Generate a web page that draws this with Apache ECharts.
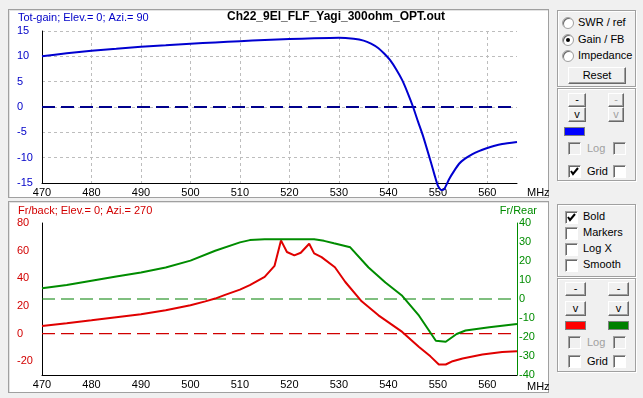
<!DOCTYPE html>
<html>
<head>
<meta charset="utf-8">
<script src="https://cdn.jsdelivr.net/npm/echarts@6/dist/echarts.min.js"></script>
<style>
  body{
    margin:0;
    width:643px;
    height:398px;
    overflow:hidden;
    position:relative;
    background:#f0f0f0;
    font:11px 'Liberation Sans', Arial, sans-serif;
    color:#000;
  }
  .panel{
    position:absolute;
    background:#fff;
    border:1px solid #a0a0a0;
    box-shadow:inset 1px 1px 0 #e3e3e3;
    box-sizing:border-box;
  }
  #chart{
    position:absolute;
    left:0;top:0;
    width:552px;height:398px;
  }
  .group{
    position:absolute;
    border:1px solid #a0a0a0;
    box-shadow:1px 1px 0 #fff, inset 1px 1px 0 #fff;
    box-sizing:border-box;
  }
  .btn{
    position:absolute;
    box-sizing:border-box;
    background:#f0f0f0;
    border:1px solid;
    border-color:#fff #696969 #696969 #fff;
    box-shadow:inset -1px -1px 0 #a0a0a0;
    text-align:center;
    font-size:11px;
  }
  .btn.off{color:#a0a0a0;}
  .chk{
    position:absolute;
    width:13px;height:13px;
    box-sizing:border-box;
    background:#fff;
    border:1px solid;
    border-color:#a0a0a0 #fff #fff #a0a0a0;
    box-shadow:inset 1px 1px 0 #696969;
  }
  .chk.off{background:#f0f0f0;}
  .chk svg{position:absolute;left:1px;top:1px;}
  .radio{
    position:absolute;
    width:12px;height:12px;
    border-radius:50%;
    box-sizing:border-box;
    background:#fff;
    border:1px solid #a0a0a0;
    box-shadow:inset 1px 1px 0 #696969;
  }
  .radio.on::after{
    content:'';
    position:absolute;
    left:3px;top:3px;
    width:4px;height:4px;
    border-radius:50%;
    background:#000;
  }
  .lbl{position:absolute;white-space:nowrap;line-height:13px;}
  .lbl.off{color:#a0a0a0;}
  .sw{position:absolute;box-sizing:border-box;border:1px solid #808080;}
</style>
</head>
<body>
<div class="panel" style="left:8px;top:9px;width:541px;height:189px;"></div>
<div class="panel" style="left:8px;top:201px;width:541px;height:192px;"></div>
<div id="chart"></div>

<!-- right side controls -->
<div class="group" style="left:557px;top:10px;width:79px;height:77px;"></div>
<div class="radio" style="left:562px;top:17px;"></div><div class="lbl" style="left:578px;top:16px;">SWR / ref</div>
<div class="radio on" style="left:562px;top:34px;"></div><div class="lbl" style="left:578px;top:33px;">Gain / FB</div>
<div class="radio" style="left:562px;top:50px;"></div><div class="lbl" style="left:578px;top:49px;">Impedance</div>
<div class="btn" style="left:568px;top:67px;width:58px;height:17px;line-height:15px;">Reset</div>

<div class="group" style="left:557px;top:88px;width:79px;height:93px;"></div>
<div class="btn" style="left:568px;top:93px;width:18px;height:14px;line-height:11px;">-</div>
<div class="btn off" style="left:608px;top:93px;width:16px;height:14px;line-height:11px;">-</div>
<div class="btn" style="left:568px;top:107px;width:18px;height:15px;line-height:13px;">v</div>
<div class="btn off" style="left:608px;top:107px;width:16px;height:15px;line-height:13px;">v</div>
<div class="sw" style="left:564px;top:127px;width:21px;height:9px;background:#0000ff;"></div>
<div class="chk off" style="left:568px;top:142px;"></div><div class="lbl off" style="left:587px;top:142px;">Log</div>
<div class="chk off" style="left:613px;top:142px;"></div>
<div class="chk" style="left:568px;top:165px;"><svg width="9" height="9"><polyline points="1,4 3,7 8,1" fill="none" stroke="#000" stroke-width="2"/></svg></div>
<div class="lbl" style="left:587px;top:165px;">Grid</div>
<div class="chk" style="left:613px;top:165px;"></div>

<div class="group" style="left:557px;top:204px;width:79px;height:73px;"></div>
<div class="chk" style="left:565px;top:211px;"><svg width="9" height="9"><polyline points="1,4 3,7 8,1" fill="none" stroke="#000" stroke-width="2"/></svg></div>
<div class="lbl" style="left:583px;top:210px;">Bold</div>
<div class="chk" style="left:565px;top:227px;"></div><div class="lbl" style="left:583px;top:226px;">Markers</div>
<div class="chk" style="left:565px;top:243px;"></div><div class="lbl" style="left:583px;top:242px;">Log X</div>
<div class="chk" style="left:565px;top:259px;"></div><div class="lbl" style="left:583px;top:258px;">Smooth</div>

<div class="group" style="left:557px;top:278px;width:79px;height:94px;"></div>
<div class="btn" style="left:565px;top:282px;width:21px;height:14px;line-height:11px;">-</div>
<div class="btn" style="left:608px;top:282px;width:21px;height:14px;line-height:11px;">-</div>
<div class="btn" style="left:565px;top:301px;width:21px;height:15px;line-height:13px;">v</div>
<div class="btn" style="left:608px;top:301px;width:21px;height:15px;line-height:13px;">v</div>
<div class="sw" style="left:565px;top:321px;width:21px;height:9px;background:#ff0000;"></div>
<div class="sw" style="left:608px;top:321px;width:21px;height:9px;background:#008000;"></div>
<div class="chk off" style="left:568px;top:336px;"></div><div class="lbl off" style="left:587px;top:336px;">Log</div>
<div class="chk off" style="left:613px;top:336px;"></div>
<div class="chk" style="left:568px;top:355px;"></div><div class="lbl" style="left:587px;top:355px;">Grid</div>
<div class="chk" style="left:613px;top:355px;"></div>

<script>
// gain plot (top), dBi vs MHz
const gainFreq = [470, 475, 480, 485, 490, 495, 500, 505, 510, 515, 520, 525, 530, 533, 535, 536.5, 538, 539.2, 540.4, 541.6, 542.8, 543.9, 545, 546, 547, 548.6, 549.3, 550, 550.7, 551.3, 552.3, 553.3, 554.3, 555.5, 557, 558.3, 559.7, 561.3, 563, 566]
const gainDb = [10.0, 10.6, 11.1, 11.5, 11.9, 12.2, 12.5, 12.75, 13.0, 13.2, 13.4, 13.55, 13.65, 13.45, 13.1, 12.5, 11.6, 10.5, 9.2, 7.4, 5.3, 2.8, 0, -2.9, -5.7, -10.9, -13.3, -15.5, -16.4, -16.2, -14.2, -12.6, -11.2, -10.2, -9.3, -8.7, -8.2, -7.7, -7.3, -6.9]

// front/back (left axis, red)
const fbFreq = [470, 475, 480, 485, 490, 495, 500, 503, 505, 507, 510, 512, 515, 517, 518.3, 519.5, 521, 522.3, 524, 525, 526.5, 529.2, 531.3, 534.6, 538, 542.8, 546.2, 548.5, 550.2, 551.6, 553, 555, 559, 563, 566]
const fbDb = [5.5, 7.5, 9.6, 11.8, 14, 16.8, 20.5, 23.3, 25.3, 28, 31.8, 35, 41, 49, 67.4, 59, 56.6, 58.5, 65, 58, 55.3, 48, 37.3, 23.3, 13.2, 1.2, -9.7, -16.5, -22.4, -22.4, -20, -18, -15.2, -13.3, -12.8]

// front/rear (right axis, green)
const frFreq = [470, 475, 480, 485, 490, 495, 500, 505, 510, 512, 515, 520, 525, 527, 529, 532.3, 536, 539.4, 542.8, 546.2, 549.6, 551.6, 553.8, 555.6, 560.4, 566]
const frDb = [5.6, 7.4, 9.6, 11.8, 14, 16.6, 20.2, 25.4, 29.8, 31, 31.4, 31.4, 31.4, 30.6, 29.3, 27.2, 16.6, 8.7, 1.7, -8.8, -22, -22.5, -18.4, -16.6, -14.9, -13.2]

const fMin = 470, fMax = 566
const refLevel = 0   // dashed 0 dB reference in each plot
const font = "'Liberation Sans', Arial, sans-serif"

const chart = echarts.init(document.getElementById('chart'))

const xAxisBase = (gridIndex, withGrid) => ({
  type: 'value',
  gridIndex: gridIndex,
  min: fMin,
  max: fMax,
  interval: 10,
  axisLine: {show: true, onZero: false, lineStyle: {color: '#000', width: 1}},
  axisTick: {show: false},
  axisLabel: {
    color: '#000', fontSize: 11, fontFamily: font, margin: 4,
    formatter: v => (v % 10 === 0 ? String(v) : '')
  },
  splitLine: {
    show: withGrid, showMinLine: false, showMaxLine: false,
    lineStyle: {color: '#bdbdbd', type: [3, 3], width: 1}
  }
})

// dashed reference line drawn as its own series
const refSeries = (xi, yi, color, width) => ({
  type: 'line', xAxisIndex: xi, yAxisIndex: yi,
  data: [[fMin, refLevel], [fMax, refLevel]],
  showSymbol: false, silent: true, z: 2,
  lineStyle: {color: color, width: width, type: [13, 6]}
})

const option = {
  animation: false,
  backgroundColor: 'transparent',
  grid: [
    {left: 42, top: 31, width: 475, height: 152},
    {left: 42, top: 223, width: 475, height: 152}
  ],
  xAxis: [xAxisBase(0, true), xAxisBase(1, false)],
  yAxis: [
    {
      type: 'value', gridIndex: 0, min: -15, max: 15, interval: 5,
      axisLine: {show: true, lineStyle: {color: '#000'}},
      axisTick: {show: false},
      axisLabel: {color: '#0000c8', fontSize: 11, fontFamily: font, align: 'left', margin: 25},
      splitLine: {show: true, showMinLine: false, lineStyle: {color: '#bdbdbd', type: [3, 3], width: 1}}
    },
    {
      type: 'value', gridIndex: 1, min: -30, max: 80, interval: 10,
      axisLine: {show: true, lineStyle: {color: '#000'}},
      axisTick: {show: false},
      axisLabel: {
        color: '#d20000', fontSize: 11, fontFamily: font, align: 'left', margin: 25,
        formatter: v => (v % 20 === 0 ? String(v) : '')
      },
      splitLine: {show: false}
    },
    {
      type: 'value', gridIndex: 1, position: 'right', min: -40, max: 40, interval: 10,
      axisLine: {show: true, lineStyle: {color: '#008c00'}},
      axisTick: {show: false},
      axisLabel: {color: '#008c00', fontSize: 11, fontFamily: font, align: 'left', margin: 2},
      splitLine: {show: false}
    }
  ],
  series: [
    refSeries(0, 0, '#00008c', 2),
    refSeries(1, 1, '#d00000', 1.2),
    refSeries(1, 2, '#008000', 1.2),
    {
      name: 'Tot-gain', type: 'line', xAxisIndex: 0, yAxisIndex: 0,
      data: gainFreq.map((f, i) => [f, gainDb[i]]),
      showSymbol: false, clip: false, z: 3, smooth: 0.2,
      lineStyle: {color: '#0000d0', width: 2}
    },
    {
      name: 'Fr/back', type: 'line', xAxisIndex: 1, yAxisIndex: 1,
      data: fbFreq.map((f, i) => [f, fbDb[i]]),
      showSymbol: false, clip: false, z: 3,
      lineStyle: {color: '#e00000', width: 2}
    },
    {
      name: 'Fr/Rear', type: 'line', xAxisIndex: 1, yAxisIndex: 2,
      data: frFreq.map((f, i) => [f, frDb[i]]),
      showSymbol: false, clip: false, z: 3,
      lineStyle: {color: '#008c00', width: 2}
    }
  ],
  graphic: [
    {type: 'text', x: 18, y: 18, style: {text: 'Tot-gain; Elev.= 0; Azi.= 90', fill: '#0000c8', font: '11px ' + font, verticalAlign: 'middle'}},
    {type: 'text', x: 336, y: 17, style: {text: 'Ch22_9El_FLF_Yagi_300ohm_OPT.out', fill: '#000', font: 'bold 12px ' + font, align: 'center', verticalAlign: 'middle'}},
    {type: 'text', x: 527, y: 193, style: {text: 'MHz', fill: '#000', font: '11px ' + font, verticalAlign: 'middle'}},
    {type: 'text', x: 18, y: 211, style: {text: 'Fr/back; Elev.= 0; Azi.= 270', fill: '#d20000', font: '11px ' + font, verticalAlign: 'middle'}},
    {type: 'text', x: 537, y: 211, style: {text: 'Fr/Rear', fill: '#008c00', font: '11px ' + font, align: 'right', verticalAlign: 'middle'}},
    {type: 'text', x: 527, y: 387, style: {text: 'MHz', fill: '#000', font: '11px ' + font, verticalAlign: 'middle'}}
  ]
}

chart.setOption(option)
</script>
</body>
</html>
